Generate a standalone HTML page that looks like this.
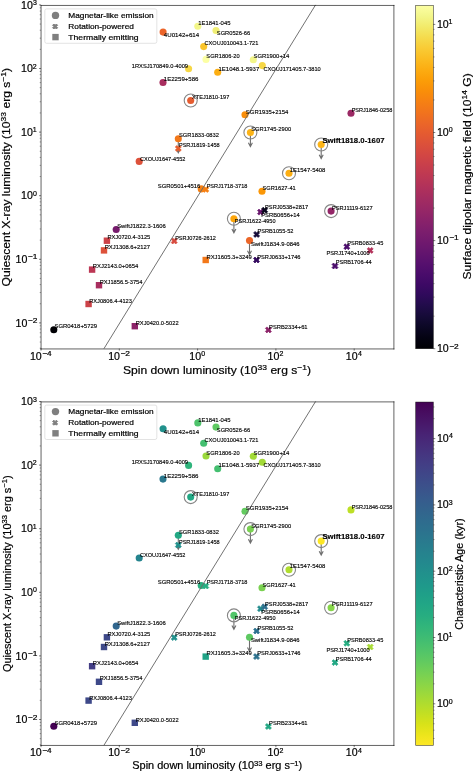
<!DOCTYPE html>
<html><head><meta charset="utf-8"><title>Magnetar luminosity plots</title><style>html,body{margin:0;padding:0;background:#fff;}body{width:473px;height:771px;overflow:hidden;}svg{display:block;font-family:"Liberation Sans",sans-serif;will-change:transform;}text{stroke:#000;stroke-width:0.2px;}.lb text{stroke-width:0.14px;}</style></head><body>
<svg width="473" height="771" viewBox="0 0 473 771" font-family="Liberation Sans, sans-serif">
<rect width="473" height="771" fill="#fff"/>
<g transform="translate(0,0.00)">
<path d="M178.30 138.70 L178.30 152.70 M176.30 148.90 L178.30 152.70 L180.30 148.90" stroke="#6e6e6e" stroke-width="1.1" fill="none"/>
<circle cx="190.70" cy="100.50" r="6.5" fill="none" stroke="#858585" stroke-width="1.1"/>
<path d="M250.40 132.50 L250.40 146.50 M248.40 142.70 L250.40 146.50 L252.40 142.70" stroke="#6e6e6e" stroke-width="1.1" fill="none"/>
<circle cx="250.40" cy="132.50" r="6.5" fill="none" stroke="#858585" stroke-width="1.1"/>
<path d="M321.20 144.50 L321.20 158.50 M319.20 154.70 L321.20 158.50 L323.20 154.70" stroke="#6e6e6e" stroke-width="1.1" fill="none"/>
<circle cx="321.20" cy="144.50" r="6.5" fill="none" stroke="#858585" stroke-width="1.1"/>
<circle cx="289.00" cy="173.20" r="6.5" fill="none" stroke="#858585" stroke-width="1.1"/>
<circle cx="331.10" cy="211.10" r="6.5" fill="none" stroke="#858585" stroke-width="1.1"/>
<path d="M233.90 218.80 L233.90 232.80 M231.90 229.00 L233.90 232.80 L235.90 229.00" stroke="#6e6e6e" stroke-width="1.1" fill="none"/>
<circle cx="233.90" cy="218.80" r="6.5" fill="none" stroke="#858585" stroke-width="1.1"/>
<path d="M249.50 240.60 L249.50 254.60 M247.50 250.80 L249.50 254.60 L251.50 250.80" stroke="#6e6e6e" stroke-width="1.1" fill="none"/>
<circle cx="53.80" cy="329.70" r="3.55" fill="#000004"/>
<rect x="131.60" y="323.00" width="6.40" height="6.40" fill="#8c2369"/>
<rect x="85.40" y="300.80" width="6.40" height="6.40" fill="#cc4248"/>
<rect x="95.80" y="282.00" width="6.40" height="6.40" fill="#a82e5f"/>
<rect x="88.90" y="266.40" width="6.40" height="6.40" fill="#bc3754"/>
<rect x="100.80" y="247.20" width="6.40" height="6.40" fill="#dd513a"/>
<rect x="103.70" y="237.50" width="6.40" height="6.40" fill="#cc4248"/>
<circle cx="116.20" cy="229.50" r="3.55" fill="#771c6d"/>
<path d="M172.70 238.00 L174.20 239.50 L175.70 238.00 L177.20 239.50 L175.70 241.00 L177.20 242.50 L175.70 244.00 L174.20 242.50 L172.70 244.00 L171.20 242.50 L172.70 241.00 L171.20 239.50Z" fill="#d74b3f" stroke="#d74b3f" stroke-width="0.7" stroke-linejoin="round"/>
<circle cx="139.20" cy="161.40" r="3.55" fill="#dd513a"/>
<circle cx="201.20" cy="188.90" r="3.55" fill="#f68013"/>
<path d="M204.30 186.40 L205.80 187.90 L207.30 186.40 L208.80 187.90 L207.30 189.40 L208.80 190.90 L207.30 192.40 L205.80 190.90 L204.30 192.40 L202.80 190.90 L204.30 189.40 L202.80 187.90Z" fill="#f68013" stroke="#f68013" stroke-width="0.7" stroke-linejoin="round"/>
<circle cx="178.30" cy="138.70" r="3.55" fill="#f37819"/>
<path d="M176.80 145.50 L178.30 147.00 L179.80 145.50 L181.30 147.00 L179.80 148.50 L181.30 150.00 L179.80 151.50 L178.30 150.00 L176.80 151.50 L175.30 150.00 L176.80 148.50 L175.30 147.00Z" fill="#e75e2e" stroke="#e75e2e" stroke-width="0.7" stroke-linejoin="round"/>
<circle cx="190.70" cy="100.50" r="3.55" fill="#e55c30"/>
<circle cx="163.00" cy="82.50" r="3.55" fill="#a82e5f"/>
<circle cx="188.60" cy="68.80" r="3.55" fill="#f6d746"/>
<circle cx="163.10" cy="32.10" r="3.55" fill="#eb6429"/>
<circle cx="197.80" cy="26.30" r="3.55" fill="#f3f68a"/>
<circle cx="216.00" cy="30.50" r="3.55" fill="#f1ef75"/>
<circle cx="203.70" cy="46.60" r="3.55" fill="#fac42a"/>
<circle cx="206.00" cy="59.40" r="3.55" fill="#fcffa4"/>
<circle cx="217.70" cy="72.20" r="3.55" fill="#fcae12"/>
<circle cx="253.30" cy="59.70" r="3.55" fill="#f3f68a"/>
<circle cx="262.30" cy="65.60" r="3.55" fill="#f6d746"/>
<circle cx="351.00" cy="113.30" r="3.55" fill="#9b2964"/>
<circle cx="245.00" cy="114.70" r="3.55" fill="#f98e09"/>
<circle cx="250.40" cy="132.50" r="3.55" fill="#fcb418"/>
<circle cx="321.20" cy="144.50" r="3.55" fill="#fcb418"/>
<circle cx="289.00" cy="173.20" r="3.55" fill="#fcae12"/>
<circle cx="262.00" cy="191.20" r="3.55" fill="#fb9706"/>
<path d="M259.00 209.10 L260.50 210.60 L262.00 209.10 L263.50 210.60 L262.00 212.10 L263.50 213.60 L262.00 215.10 L260.50 213.60 L259.00 215.10 L257.50 213.60 L259.00 212.10 L257.50 210.60Z" fill="#6a176e" stroke="#6a176e" stroke-width="0.7" stroke-linejoin="round"/>
<path d="M263.20 207.20 L264.70 208.70 L266.20 207.20 L267.70 208.70 L266.20 210.20 L267.70 211.70 L266.20 213.20 L264.70 211.70 L263.20 213.20 L261.70 211.70 L263.20 210.20 L261.70 208.70Z" fill="#07051b" stroke="#07051b" stroke-width="0.7" stroke-linejoin="round"/>
<circle cx="331.10" cy="211.10" r="3.55" fill="#932667"/>
<circle cx="233.90" cy="218.80" r="3.55" fill="#fca50a"/>
<path d="M255.10 231.40 L256.60 232.90 L258.10 231.40 L259.60 232.90 L258.10 234.40 L259.60 235.90 L258.10 237.40 L256.60 235.90 L255.10 237.40 L253.60 235.90 L255.10 234.40 L253.60 232.90Z" fill="#160b39" stroke="#160b39" stroke-width="0.7" stroke-linejoin="round"/>
<circle cx="249.50" cy="240.60" r="3.55" fill="#eb6628"/>
<rect x="202.50" y="256.80" width="6.40" height="6.40" fill="#f37819"/>
<path d="M255.00 257.00 L256.50 258.50 L258.00 257.00 L259.50 258.50 L258.00 260.00 L259.50 261.50 L258.00 263.00 L256.50 261.50 L255.00 263.00 L253.50 261.50 L255.00 260.00 L253.50 258.50Z" fill="#340a5f" stroke="#340a5f" stroke-width="0.7" stroke-linejoin="round"/>
<path d="M345.30 243.70 L346.80 245.20 L348.30 243.70 L349.80 245.20 L348.30 246.70 L349.80 248.20 L348.30 249.70 L346.80 248.20 L345.30 249.70 L343.80 248.20 L345.30 246.70 L343.80 245.20Z" fill="#4a0c6b" stroke="#4a0c6b" stroke-width="0.7" stroke-linejoin="round"/>
<path d="M368.70 247.40 L370.20 248.90 L371.70 247.40 L373.20 248.90 L371.70 250.40 L373.20 251.90 L371.70 253.40 L370.20 251.90 L368.70 253.40 L367.20 251.90 L368.70 250.40 L367.20 248.90Z" fill="#b3325a" stroke="#b3325a" stroke-width="0.7" stroke-linejoin="round"/>
<path d="M333.50 263.00 L335.00 264.50 L336.50 263.00 L338.00 264.50 L336.50 266.00 L338.00 267.50 L336.50 269.00 L335.00 267.50 L333.50 269.00 L332.00 267.50 L333.50 266.00 L332.00 264.50Z" fill="#4a0c6b" stroke="#4a0c6b" stroke-width="0.7" stroke-linejoin="round"/>
<path d="M266.90 326.90 L268.40 328.40 L269.90 326.90 L271.40 328.40 L269.90 329.90 L271.40 331.40 L269.90 332.90 L268.40 331.40 L266.90 332.90 L265.40 331.40 L266.90 329.90 L265.40 328.40Z" fill="#8c2369" stroke="#8c2369" stroke-width="0.7" stroke-linejoin="round"/>
<line x1="103.98" y1="348.60" x2="315.55" y2="4.90" stroke="#6a6a6a" stroke-width="0.95"/>
<g class="lb" font-size="6.20" fill="#000">
<text x="54.45" y="328.33" textLength="42.57" lengthAdjust="spacingAndGlyphs">SGR0418+5729</text>
<text x="135.75" y="325.03" textLength="42.82" lengthAdjust="spacingAndGlyphs">RXJ0420.0-5022</text>
<text x="89.15" y="303.23" textLength="42.82" lengthAdjust="spacingAndGlyphs">RXJ0806.4-4123</text>
<text x="99.65" y="283.73" textLength="42.82" lengthAdjust="spacingAndGlyphs">RXJ1856.5-3754</text>
<text x="92.85" y="268.33" textLength="45.35" lengthAdjust="spacingAndGlyphs">RXJ2143.0+0654</text>
<text x="104.65" y="249.33" textLength="45.35" lengthAdjust="spacingAndGlyphs">RXJ1308.6+2127</text>
<text x="107.45" y="239.43" textLength="42.82" lengthAdjust="spacingAndGlyphs">RXJ0720.4-3125</text>
<text x="117.15" y="228.03" textLength="48.53" lengthAdjust="spacingAndGlyphs">SwiftJ1822.3-1606</text>
<text x="175.15" y="239.53" textLength="40.69" lengthAdjust="spacingAndGlyphs">PSRJ0726-2612</text>
<text x="139.95" y="160.53" textLength="45.50" lengthAdjust="spacingAndGlyphs">CXOUJ1647-4552</text>
<text x="157.75" y="187.83" textLength="42.57" lengthAdjust="spacingAndGlyphs">SGR0501+4516</text>
<text x="206.65" y="187.83" textLength="40.69" lengthAdjust="spacingAndGlyphs">PSRJ1718-3718</text>
<text x="178.95" y="137.23" textLength="40.04" lengthAdjust="spacingAndGlyphs">SGR1833-0832</text>
<text x="178.95" y="147.03" textLength="40.69" lengthAdjust="spacingAndGlyphs">PSRJ1819-1458</text>
<text x="192.05" y="99.03" textLength="37.20" lengthAdjust="spacingAndGlyphs">XTEJ1810-197</text>
<text x="163.75" y="81.03" textLength="34.77" lengthAdjust="spacingAndGlyphs">1E2259+586</text>
<text x="131.75" y="67.53" textLength="56.30" lengthAdjust="spacingAndGlyphs">1RXSJ170849.0-4009</text>
<text x="163.85" y="37.03" textLength="35.30" lengthAdjust="spacingAndGlyphs">4U0142+614</text>
<text x="198.25" y="25.43" textLength="32.24" lengthAdjust="spacingAndGlyphs">1E1841-045</text>
<text x="216.85" y="35.43" textLength="33.30" lengthAdjust="spacingAndGlyphs">SGR0526-66</text>
<text x="204.45" y="45.33" textLength="53.92" lengthAdjust="spacingAndGlyphs">CXOUJ010043.1-721</text>
<text x="206.35" y="58.23" textLength="33.30" lengthAdjust="spacingAndGlyphs">SGR1806-20</text>
<text x="218.55" y="70.53" textLength="40.67" lengthAdjust="spacingAndGlyphs">1E1048.1-5937</text>
<text x="253.55" y="58.23" textLength="35.83" lengthAdjust="spacingAndGlyphs">SGR1900+14</text>
<text x="263.45" y="70.53" textLength="57.30" lengthAdjust="spacingAndGlyphs">CXOUJ171405.7-3810</text>
<text x="351.65" y="112.23" textLength="40.69" lengthAdjust="spacingAndGlyphs">PSRJ1846-0258</text>
<text x="245.85" y="113.63" textLength="42.57" lengthAdjust="spacingAndGlyphs">SGR1935+2154</text>
<text x="251.15" y="131.13" textLength="40.04" lengthAdjust="spacingAndGlyphs">SGR1745-2900</text>
<text x="322.40" y="142.90" font-size="7.20" font-weight="bold" textLength="62.13" lengthAdjust="spacingAndGlyphs">Swift1818.0-1607</text>
<text x="289.75" y="171.83" textLength="35.61" lengthAdjust="spacingAndGlyphs">1E1547-5408</text>
<text x="262.45" y="190.23" textLength="33.30" lengthAdjust="spacingAndGlyphs">SGR1627-41</text>
<text x="261.25" y="217.13" textLength="38.55" lengthAdjust="spacingAndGlyphs">PSRB0656+14</text>
<text x="265.05" y="208.93" textLength="43.22" lengthAdjust="spacingAndGlyphs">PSRJ0538+2817</text>
<text x="331.95" y="209.83" textLength="40.69" lengthAdjust="spacingAndGlyphs">PSRJ1119-6127</text>
<text x="234.85" y="223.13" textLength="40.69" lengthAdjust="spacingAndGlyphs">PSRJ1622-4950</text>
<text x="257.45" y="233.13" textLength="36.02" lengthAdjust="spacingAndGlyphs">PSRB1055-52</text>
<text x="250.95" y="245.63" textLength="48.53" lengthAdjust="spacingAndGlyphs">SwiftJ1834.9-0846</text>
<text x="206.45" y="258.53" textLength="45.35" lengthAdjust="spacingAndGlyphs">RXJ1605.3+3249</text>
<text x="257.25" y="258.53" textLength="43.22" lengthAdjust="spacingAndGlyphs">PSRJ0633+1746</text>
<text x="347.25" y="245.43" textLength="36.02" lengthAdjust="spacingAndGlyphs">PSRB0833-45</text>
<text x="326.45" y="255.23" textLength="43.22" lengthAdjust="spacingAndGlyphs">PSRJ1740+1000</text>
<text x="335.65" y="264.23" textLength="36.02" lengthAdjust="spacingAndGlyphs">PSRB1706-44</text>
<text x="269.05" y="328.73" textLength="38.55" lengthAdjust="spacingAndGlyphs">PSRB2334+61</text>
</g>
<path d="M41.05 5.45 H393.90 M41.05 348.95 H393.90 M41.05 5.45 V348.95 M393.90 5.45 V348.95" stroke="#000" stroke-width="0.62" fill="none" stroke-linecap="square"/>
<line x1="41.00" y1="348.60" x2="41.00" y2="350.60" stroke="#000" stroke-width="0.5"/>
<text x="29.89" y="359.90" font-size="10.60">10</text><text x="42.20" y="356.30" font-size="7.00" textLength="9.34" lengthAdjust="spacingAndGlyphs">−4</text>
<line x1="119.30" y1="348.60" x2="119.30" y2="350.60" stroke="#000" stroke-width="0.5"/>
<text x="108.19" y="359.90" font-size="10.60">10</text><text x="120.49" y="356.30" font-size="7.00" textLength="9.53" lengthAdjust="spacingAndGlyphs">−2</text>
<line x1="197.60" y1="348.60" x2="197.60" y2="350.60" stroke="#000" stroke-width="0.5"/>
<text x="189.24" y="359.90" font-size="10.60">10</text><text x="201.18" y="356.30" font-size="7.00">0</text>
<line x1="275.90" y1="348.60" x2="275.90" y2="350.60" stroke="#000" stroke-width="0.5"/>
<text x="267.54" y="359.90" font-size="10.60">10</text><text x="279.40" y="356.30" font-size="7.00">2</text>
<line x1="354.20" y1="348.60" x2="354.20" y2="350.60" stroke="#000" stroke-width="0.5"/>
<text x="345.84" y="359.90" font-size="10.60">10</text><text x="357.90" y="356.30" font-size="7.00">4</text>
<line x1="39.00" y1="322.90" x2="41.00" y2="322.90" stroke="#000" stroke-width="0.5"/>
<text x="15.49" y="326.60" font-size="10.60">10</text><text x="27.79" y="323.00" font-size="7.00" textLength="9.53" lengthAdjust="spacingAndGlyphs">−2</text>
<line x1="39.00" y1="259.30" x2="41.00" y2="259.30" stroke="#000" stroke-width="0.5"/>
<text x="15.49" y="263.00" font-size="10.60">10</text><text x="27.79" y="259.40" font-size="7.00" textLength="9.51" lengthAdjust="spacingAndGlyphs">−1</text>
<line x1="39.00" y1="195.70" x2="41.00" y2="195.70" stroke="#000" stroke-width="0.5"/>
<text x="20.99" y="199.40" font-size="10.60">10</text><text x="32.93" y="195.80" font-size="7.00">0</text>
<line x1="39.00" y1="132.10" x2="41.00" y2="132.10" stroke="#000" stroke-width="0.5"/>
<text x="20.99" y="135.80" font-size="10.60">10</text><text x="32.67" y="132.20" font-size="7.00">1</text>
<line x1="39.00" y1="68.50" x2="41.00" y2="68.50" stroke="#000" stroke-width="0.5"/>
<text x="20.99" y="72.20" font-size="10.60">10</text><text x="32.85" y="68.60" font-size="7.00">2</text>
<line x1="39.00" y1="4.90" x2="41.00" y2="4.90" stroke="#000" stroke-width="0.5"/>
<text x="20.99" y="8.60" font-size="10.60">10</text><text x="32.93" y="5.00" font-size="7.00">3</text>
<line x1="39.70" y1="348.21" x2="41.00" y2="348.21" stroke="#000" stroke-width="0.35"/>
<line x1="39.70" y1="342.05" x2="41.00" y2="342.05" stroke="#000" stroke-width="0.35"/>
<line x1="39.70" y1="337.01" x2="41.00" y2="337.01" stroke="#000" stroke-width="0.35"/>
<line x1="39.70" y1="332.75" x2="41.00" y2="332.75" stroke="#000" stroke-width="0.35"/>
<line x1="39.70" y1="329.06" x2="41.00" y2="329.06" stroke="#000" stroke-width="0.35"/>
<line x1="39.70" y1="325.81" x2="41.00" y2="325.81" stroke="#000" stroke-width="0.35"/>
<line x1="39.70" y1="303.75" x2="41.00" y2="303.75" stroke="#000" stroke-width="0.35"/>
<line x1="39.70" y1="292.56" x2="41.00" y2="292.56" stroke="#000" stroke-width="0.35"/>
<line x1="39.70" y1="284.61" x2="41.00" y2="284.61" stroke="#000" stroke-width="0.35"/>
<line x1="39.70" y1="278.45" x2="41.00" y2="278.45" stroke="#000" stroke-width="0.35"/>
<line x1="39.70" y1="273.41" x2="41.00" y2="273.41" stroke="#000" stroke-width="0.35"/>
<line x1="39.70" y1="269.15" x2="41.00" y2="269.15" stroke="#000" stroke-width="0.35"/>
<line x1="39.70" y1="265.46" x2="41.00" y2="265.46" stroke="#000" stroke-width="0.35"/>
<line x1="39.70" y1="262.21" x2="41.00" y2="262.21" stroke="#000" stroke-width="0.35"/>
<line x1="39.70" y1="240.15" x2="41.00" y2="240.15" stroke="#000" stroke-width="0.35"/>
<line x1="39.70" y1="228.96" x2="41.00" y2="228.96" stroke="#000" stroke-width="0.35"/>
<line x1="39.70" y1="221.01" x2="41.00" y2="221.01" stroke="#000" stroke-width="0.35"/>
<line x1="39.70" y1="214.85" x2="41.00" y2="214.85" stroke="#000" stroke-width="0.35"/>
<line x1="39.70" y1="209.81" x2="41.00" y2="209.81" stroke="#000" stroke-width="0.35"/>
<line x1="39.70" y1="205.55" x2="41.00" y2="205.55" stroke="#000" stroke-width="0.35"/>
<line x1="39.70" y1="201.86" x2="41.00" y2="201.86" stroke="#000" stroke-width="0.35"/>
<line x1="39.70" y1="198.61" x2="41.00" y2="198.61" stroke="#000" stroke-width="0.35"/>
<line x1="39.70" y1="176.55" x2="41.00" y2="176.55" stroke="#000" stroke-width="0.35"/>
<line x1="39.70" y1="165.36" x2="41.00" y2="165.36" stroke="#000" stroke-width="0.35"/>
<line x1="39.70" y1="157.41" x2="41.00" y2="157.41" stroke="#000" stroke-width="0.35"/>
<line x1="39.70" y1="151.25" x2="41.00" y2="151.25" stroke="#000" stroke-width="0.35"/>
<line x1="39.70" y1="146.21" x2="41.00" y2="146.21" stroke="#000" stroke-width="0.35"/>
<line x1="39.70" y1="141.95" x2="41.00" y2="141.95" stroke="#000" stroke-width="0.35"/>
<line x1="39.70" y1="138.26" x2="41.00" y2="138.26" stroke="#000" stroke-width="0.35"/>
<line x1="39.70" y1="135.01" x2="41.00" y2="135.01" stroke="#000" stroke-width="0.35"/>
<line x1="39.70" y1="112.95" x2="41.00" y2="112.95" stroke="#000" stroke-width="0.35"/>
<line x1="39.70" y1="101.76" x2="41.00" y2="101.76" stroke="#000" stroke-width="0.35"/>
<line x1="39.70" y1="93.81" x2="41.00" y2="93.81" stroke="#000" stroke-width="0.35"/>
<line x1="39.70" y1="87.65" x2="41.00" y2="87.65" stroke="#000" stroke-width="0.35"/>
<line x1="39.70" y1="82.61" x2="41.00" y2="82.61" stroke="#000" stroke-width="0.35"/>
<line x1="39.70" y1="78.35" x2="41.00" y2="78.35" stroke="#000" stroke-width="0.35"/>
<line x1="39.70" y1="74.66" x2="41.00" y2="74.66" stroke="#000" stroke-width="0.35"/>
<line x1="39.70" y1="71.41" x2="41.00" y2="71.41" stroke="#000" stroke-width="0.35"/>
<line x1="39.70" y1="49.35" x2="41.00" y2="49.35" stroke="#000" stroke-width="0.35"/>
<line x1="39.70" y1="38.16" x2="41.00" y2="38.16" stroke="#000" stroke-width="0.35"/>
<line x1="39.70" y1="30.21" x2="41.00" y2="30.21" stroke="#000" stroke-width="0.35"/>
<line x1="39.70" y1="24.05" x2="41.00" y2="24.05" stroke="#000" stroke-width="0.35"/>
<line x1="39.70" y1="19.01" x2="41.00" y2="19.01" stroke="#000" stroke-width="0.35"/>
<line x1="39.70" y1="14.75" x2="41.00" y2="14.75" stroke="#000" stroke-width="0.35"/>
<line x1="39.70" y1="11.06" x2="41.00" y2="11.06" stroke="#000" stroke-width="0.35"/>
<line x1="39.70" y1="7.81" x2="41.00" y2="7.81" stroke="#000" stroke-width="0.35"/>
<text x="123.03" y="373.80" font-size="11.20" textLength="187.98" lengthAdjust="spacingAndGlyphs">Spin down luminosity (10<tspan font-size="7.84" dy="-4.03">33</tspan><tspan dy="4.03"> erg s</tspan><tspan font-size="7.84" dy="-4.03">−1</tspan><tspan dy="4.03">)</tspan></text>
<text transform="translate(9.80,286.47) rotate(-90)" x="0" y="0" font-size="11.20" textLength="218.58" lengthAdjust="spacingAndGlyphs">Quiescent X-ray luminosity (10<tspan font-size="7.84" dy="-4.03">33</tspan><tspan dy="4.03"> erg s</tspan><tspan font-size="7.84" dy="-4.03">−1</tspan><tspan dy="4.03">)</tspan></text>
<g transform="translate(0,0.00)">
<rect x="44.8" y="8.9" width="112.0" height="34.4" rx="1.8" fill="#fff" fill-opacity="0.8" stroke="#dcdcdc" stroke-width="0.8"/>
<circle cx="55.5" cy="15.4" r="3.7" fill="#7f7f7f"/>
<path d="M53.85 24.00 L55.10 25.25 L56.35 24.00 L57.60 25.25 L56.35 26.50 L57.60 27.75 L56.35 29.00 L55.10 27.75 L53.85 29.00 L52.60 27.75 L53.85 26.50 L52.60 25.25Z" fill="#7f7f7f" stroke="#7f7f7f" stroke-width="1.0" stroke-linejoin="round"/>
<rect x="52.3" y="33.9" width="6.4" height="6.4" fill="#7f7f7f"/>
<text x="68.30" y="18.10" font-size="7.85" textLength="85.37" lengthAdjust="spacingAndGlyphs">Magnetar-like emission</text>
<text x="68.30" y="28.80" font-size="7.85" textLength="65.58" lengthAdjust="spacingAndGlyphs">Rotation-powered</text>
<text x="68.30" y="39.50" font-size="7.85" textLength="70.33" lengthAdjust="spacingAndGlyphs">Thermally emitting</text>
</g>
<defs><linearGradient id="cb0" x1="0" y1="0" x2="0" y2="1"><stop offset="0.0000" stop-color="#fcffa4"/><stop offset="0.0312" stop-color="#f3f68a"/><stop offset="0.0625" stop-color="#f2ea69"/><stop offset="0.0938" stop-color="#f5db4c"/><stop offset="0.1250" stop-color="#f9cb35"/><stop offset="0.1562" stop-color="#fbbc21"/><stop offset="0.1875" stop-color="#fcac11"/><stop offset="0.2188" stop-color="#fb9d07"/><stop offset="0.2500" stop-color="#f98e09"/><stop offset="0.2812" stop-color="#f68013"/><stop offset="0.3125" stop-color="#f1731d"/><stop offset="0.3438" stop-color="#eb6628"/><stop offset="0.3750" stop-color="#e45a31"/><stop offset="0.4062" stop-color="#db503b"/><stop offset="0.4375" stop-color="#d24644"/><stop offset="0.4688" stop-color="#c73e4c"/><stop offset="0.5000" stop-color="#bc3754"/><stop offset="0.5312" stop-color="#b0315b"/><stop offset="0.5625" stop-color="#a32c61"/><stop offset="0.5938" stop-color="#972766"/><stop offset="0.6250" stop-color="#8a226a"/><stop offset="0.6562" stop-color="#7d1e6d"/><stop offset="0.6875" stop-color="#71196e"/><stop offset="0.7188" stop-color="#64156e"/><stop offset="0.7500" stop-color="#57106e"/><stop offset="0.7812" stop-color="#4a0c6b"/><stop offset="0.8125" stop-color="#3d0965"/><stop offset="0.8438" stop-color="#2f0a5b"/><stop offset="0.8750" stop-color="#210c4a"/><stop offset="0.9062" stop-color="#150b37"/><stop offset="0.9375" stop-color="#0b0724"/><stop offset="0.9688" stop-color="#040312"/><stop offset="1.0000" stop-color="#000004"/></linearGradient></defs>
<rect x="415.70" y="5.45" width="17.60" height="343.25" fill="url(#cb0)" stroke="#000" stroke-opacity="0.75" stroke-width="0.6"/>
<line x1="433.30" y1="348.70" x2="435.30" y2="348.70" stroke="#000" stroke-width="0.5"/>
<text x="436.89" y="352.10" font-size="10.60">10</text><text x="449.19" y="348.50" font-size="7.00" textLength="9.53" lengthAdjust="spacingAndGlyphs">−2</text>
<line x1="433.30" y1="240.60" x2="435.30" y2="240.60" stroke="#000" stroke-width="0.5"/>
<text x="436.89" y="244.00" font-size="10.60">10</text><text x="449.19" y="240.40" font-size="7.00" textLength="9.51" lengthAdjust="spacingAndGlyphs">−1</text>
<line x1="433.30" y1="132.50" x2="435.30" y2="132.50" stroke="#000" stroke-width="0.5"/>
<text x="436.89" y="135.90" font-size="10.60">10</text><text x="448.83" y="132.30" font-size="7.00">0</text>
<line x1="433.30" y1="24.40" x2="435.30" y2="24.40" stroke="#000" stroke-width="0.5"/>
<text x="436.89" y="27.80" font-size="10.60">10</text><text x="448.57" y="24.20" font-size="7.00">1</text>
<line x1="433.30" y1="316.16" x2="434.60" y2="316.16" stroke="#000" stroke-width="0.35"/>
<line x1="433.30" y1="297.12" x2="434.60" y2="297.12" stroke="#000" stroke-width="0.35"/>
<line x1="433.30" y1="283.62" x2="434.60" y2="283.62" stroke="#000" stroke-width="0.35"/>
<line x1="433.30" y1="273.14" x2="434.60" y2="273.14" stroke="#000" stroke-width="0.35"/>
<line x1="433.30" y1="264.58" x2="434.60" y2="264.58" stroke="#000" stroke-width="0.35"/>
<line x1="433.30" y1="257.34" x2="434.60" y2="257.34" stroke="#000" stroke-width="0.35"/>
<line x1="433.30" y1="251.08" x2="434.60" y2="251.08" stroke="#000" stroke-width="0.35"/>
<line x1="433.30" y1="245.55" x2="434.60" y2="245.55" stroke="#000" stroke-width="0.35"/>
<line x1="433.30" y1="208.06" x2="434.60" y2="208.06" stroke="#000" stroke-width="0.35"/>
<line x1="433.30" y1="189.02" x2="434.60" y2="189.02" stroke="#000" stroke-width="0.35"/>
<line x1="433.30" y1="175.52" x2="434.60" y2="175.52" stroke="#000" stroke-width="0.35"/>
<line x1="433.30" y1="165.04" x2="434.60" y2="165.04" stroke="#000" stroke-width="0.35"/>
<line x1="433.30" y1="156.48" x2="434.60" y2="156.48" stroke="#000" stroke-width="0.35"/>
<line x1="433.30" y1="149.24" x2="434.60" y2="149.24" stroke="#000" stroke-width="0.35"/>
<line x1="433.30" y1="142.98" x2="434.60" y2="142.98" stroke="#000" stroke-width="0.35"/>
<line x1="433.30" y1="137.45" x2="434.60" y2="137.45" stroke="#000" stroke-width="0.35"/>
<line x1="433.30" y1="99.96" x2="434.60" y2="99.96" stroke="#000" stroke-width="0.35"/>
<line x1="433.30" y1="80.92" x2="434.60" y2="80.92" stroke="#000" stroke-width="0.35"/>
<line x1="433.30" y1="67.42" x2="434.60" y2="67.42" stroke="#000" stroke-width="0.35"/>
<line x1="433.30" y1="56.94" x2="434.60" y2="56.94" stroke="#000" stroke-width="0.35"/>
<line x1="433.30" y1="48.38" x2="434.60" y2="48.38" stroke="#000" stroke-width="0.35"/>
<line x1="433.30" y1="41.14" x2="434.60" y2="41.14" stroke="#000" stroke-width="0.35"/>
<line x1="433.30" y1="34.88" x2="434.60" y2="34.88" stroke="#000" stroke-width="0.35"/>
<line x1="433.30" y1="29.35" x2="434.60" y2="29.35" stroke="#000" stroke-width="0.35"/>
<text transform="translate(470.70,279.47) rotate(-90)" x="0" y="0" font-size="11.20" textLength="206.18" lengthAdjust="spacingAndGlyphs">Surface dipolar magnetic field (10<tspan font-size="7.84" dy="-4.03">14</tspan><tspan dy="4.03"> G)</tspan></text>
</g>
<g transform="translate(0,396.60)">
<path d="M178.30 138.70 L178.30 152.70 M176.30 148.90 L178.30 152.70 L180.30 148.90" stroke="#6e6e6e" stroke-width="1.1" fill="none"/>
<circle cx="190.70" cy="100.50" r="6.5" fill="none" stroke="#858585" stroke-width="1.1"/>
<path d="M250.40 132.50 L250.40 146.50 M248.40 142.70 L250.40 146.50 L252.40 142.70" stroke="#6e6e6e" stroke-width="1.1" fill="none"/>
<circle cx="250.40" cy="132.50" r="6.5" fill="none" stroke="#858585" stroke-width="1.1"/>
<path d="M321.20 144.50 L321.20 158.50 M319.20 154.70 L321.20 158.50 L323.20 154.70" stroke="#6e6e6e" stroke-width="1.1" fill="none"/>
<circle cx="321.20" cy="144.50" r="6.5" fill="none" stroke="#858585" stroke-width="1.1"/>
<circle cx="289.00" cy="173.20" r="6.5" fill="none" stroke="#858585" stroke-width="1.1"/>
<circle cx="331.10" cy="211.10" r="6.5" fill="none" stroke="#858585" stroke-width="1.1"/>
<path d="M233.90 218.80 L233.90 232.80 M231.90 229.00 L233.90 232.80 L235.90 229.00" stroke="#6e6e6e" stroke-width="1.1" fill="none"/>
<circle cx="233.90" cy="218.80" r="6.5" fill="none" stroke="#858585" stroke-width="1.1"/>
<path d="M249.50 240.60 L249.50 254.60 M247.50 250.80 L249.50 254.60 L251.50 250.80" stroke="#6e6e6e" stroke-width="1.1" fill="none"/>
<circle cx="53.80" cy="329.70" r="3.55" fill="#440154"/>
<rect x="131.60" y="323.00" width="6.40" height="6.40" fill="#3e4989"/>
<rect x="85.40" y="300.80" width="6.40" height="6.40" fill="#3e4989"/>
<rect x="95.80" y="282.00" width="6.40" height="6.40" fill="#3e4989"/>
<rect x="88.90" y="266.40" width="6.40" height="6.40" fill="#433e85"/>
<rect x="100.80" y="247.20" width="6.40" height="6.40" fill="#3e4989"/>
<rect x="103.70" y="237.50" width="6.40" height="6.40" fill="#3e4989"/>
<circle cx="116.20" cy="229.50" r="3.55" fill="#31678e"/>
<path d="M172.70 238.00 L174.20 239.50 L175.70 238.00 L177.20 239.50 L175.70 241.00 L177.20 242.50 L175.70 244.00 L174.20 242.50 L172.70 244.00 L171.20 242.50 L172.70 241.00 L171.20 239.50Z" fill="#21918c" stroke="#21918c" stroke-width="0.7" stroke-linejoin="round"/>
<circle cx="139.20" cy="161.40" r="3.55" fill="#25848e"/>
<circle cx="201.20" cy="188.90" r="3.55" fill="#29af7f"/>
<path d="M204.30 186.40 L205.80 187.90 L207.30 186.40 L208.80 187.90 L207.30 189.40 L208.80 190.90 L207.30 192.40 L205.80 190.90 L204.30 192.40 L202.80 190.90 L204.30 189.40 L202.80 187.90Z" fill="#26ad81" stroke="#26ad81" stroke-width="0.7" stroke-linejoin="round"/>
<circle cx="178.30" cy="138.70" r="3.55" fill="#22a884"/>
<path d="M176.80 145.50 L178.30 147.00 L179.80 145.50 L181.30 147.00 L179.80 148.50 L181.30 150.00 L179.80 151.50 L178.30 150.00 L176.80 151.50 L175.30 150.00 L176.80 148.50 L175.30 147.00Z" fill="#21918c" stroke="#21918c" stroke-width="0.7" stroke-linejoin="round"/>
<circle cx="190.70" cy="100.50" r="3.55" fill="#22a884"/>
<circle cx="163.00" cy="82.50" r="3.55" fill="#2a788e"/>
<circle cx="188.60" cy="68.80" r="3.55" fill="#2fb47c"/>
<circle cx="163.10" cy="32.10" r="3.55" fill="#21918c"/>
<circle cx="197.80" cy="26.30" r="3.55" fill="#4ec36b"/>
<circle cx="216.00" cy="30.50" r="3.55" fill="#5ec962"/>
<circle cx="203.70" cy="46.60" r="3.55" fill="#44bf70"/>
<circle cx="206.00" cy="59.40" r="3.55" fill="#9bd93c"/>
<circle cx="217.70" cy="72.20" r="3.55" fill="#44bf70"/>
<circle cx="253.30" cy="59.70" r="3.55" fill="#a2da37"/>
<circle cx="262.30" cy="65.60" r="3.55" fill="#a2da37"/>
<circle cx="351.00" cy="113.30" r="3.55" fill="#bddf26"/>
<circle cx="245.00" cy="114.70" r="3.55" fill="#63cb5f"/>
<circle cx="250.40" cy="132.50" r="3.55" fill="#7ad151"/>
<circle cx="321.20" cy="144.50" r="3.55" fill="#fde725"/>
<circle cx="289.00" cy="173.20" r="3.55" fill="#b0dd2f"/>
<circle cx="262.00" cy="191.20" r="3.55" fill="#7ad151"/>
<path d="M259.00 209.10 L260.50 210.60 L262.00 209.10 L263.50 210.60 L262.00 212.10 L263.50 213.60 L262.00 215.10 L260.50 213.60 L259.00 215.10 L257.50 213.60 L259.00 212.10 L257.50 210.60Z" fill="#228b8d" stroke="#228b8d" stroke-width="0.7" stroke-linejoin="round"/>
<path d="M263.20 207.20 L264.70 208.70 L266.20 207.20 L267.70 208.70 L266.20 210.20 L267.70 211.70 L266.20 213.20 L264.70 211.70 L263.20 213.20 L261.70 211.70 L263.20 210.20 L261.70 208.70Z" fill="#2e6f8e" stroke="#2e6f8e" stroke-width="0.7" stroke-linejoin="round"/>
<circle cx="331.10" cy="211.10" r="3.55" fill="#86d549"/>
<circle cx="233.90" cy="218.80" r="3.55" fill="#52c569"/>
<path d="M255.10 231.40 L256.60 232.90 L258.10 231.40 L259.60 232.90 L258.10 234.40 L259.60 235.90 L258.10 237.40 L256.60 235.90 L255.10 237.40 L253.60 235.90 L255.10 234.40 L253.60 232.90Z" fill="#2d718e" stroke="#2d718e" stroke-width="0.7" stroke-linejoin="round"/>
<circle cx="249.50" cy="240.60" r="3.55" fill="#5ec962"/>
<rect x="202.50" y="256.80" width="6.40" height="6.40" fill="#20a386"/>
<path d="M255.00 257.00 L256.50 258.50 L258.00 257.00 L259.50 258.50 L258.00 260.00 L259.50 261.50 L258.00 263.00 L256.50 261.50 L255.00 263.00 L253.50 261.50 L255.00 260.00 L253.50 258.50Z" fill="#2d718e" stroke="#2d718e" stroke-width="0.7" stroke-linejoin="round"/>
<path d="M345.30 243.70 L346.80 245.20 L348.30 243.70 L349.80 245.20 L348.30 246.70 L349.80 248.20 L348.30 249.70 L346.80 248.20 L345.30 249.70 L343.80 248.20 L345.30 246.70 L343.80 245.20Z" fill="#26ad81" stroke="#26ad81" stroke-width="0.7" stroke-linejoin="round"/>
<path d="M368.70 247.40 L370.20 248.90 L371.70 247.40 L373.20 248.90 L371.70 250.40 L373.20 251.90 L371.70 253.40 L370.20 251.90 L368.70 253.40 L367.20 251.90 L368.70 250.40 L367.20 248.90Z" fill="#a8db34" stroke="#a8db34" stroke-width="0.7" stroke-linejoin="round"/>
<path d="M333.50 263.00 L335.00 264.50 L336.50 263.00 L338.00 264.50 L336.50 266.00 L338.00 267.50 L336.50 269.00 L335.00 267.50 L333.50 269.00 L332.00 267.50 L333.50 266.00 L332.00 264.50Z" fill="#22a884" stroke="#22a884" stroke-width="0.7" stroke-linejoin="round"/>
<path d="M266.90 326.90 L268.40 328.40 L269.90 326.90 L271.40 328.40 L269.90 329.90 L271.40 331.40 L269.90 332.90 L268.40 331.40 L266.90 332.90 L265.40 331.40 L266.90 329.90 L265.40 328.40Z" fill="#22a884" stroke="#22a884" stroke-width="0.7" stroke-linejoin="round"/>
<line x1="103.98" y1="348.60" x2="315.55" y2="4.90" stroke="#6a6a6a" stroke-width="0.95"/>
<g class="lb" font-size="6.20" fill="#000">
<text x="54.45" y="328.33" textLength="42.57" lengthAdjust="spacingAndGlyphs">SGR0418+5729</text>
<text x="135.75" y="325.03" textLength="42.82" lengthAdjust="spacingAndGlyphs">RXJ0420.0-5022</text>
<text x="89.15" y="303.23" textLength="42.82" lengthAdjust="spacingAndGlyphs">RXJ0806.4-4123</text>
<text x="99.65" y="283.73" textLength="42.82" lengthAdjust="spacingAndGlyphs">RXJ1856.5-3754</text>
<text x="92.85" y="268.33" textLength="45.35" lengthAdjust="spacingAndGlyphs">RXJ2143.0+0654</text>
<text x="104.65" y="249.33" textLength="45.35" lengthAdjust="spacingAndGlyphs">RXJ1308.6+2127</text>
<text x="107.45" y="239.43" textLength="42.82" lengthAdjust="spacingAndGlyphs">RXJ0720.4-3125</text>
<text x="117.15" y="228.03" textLength="48.53" lengthAdjust="spacingAndGlyphs">SwiftJ1822.3-1606</text>
<text x="175.15" y="239.53" textLength="40.69" lengthAdjust="spacingAndGlyphs">PSRJ0726-2612</text>
<text x="139.95" y="160.53" textLength="45.50" lengthAdjust="spacingAndGlyphs">CXOUJ1647-4552</text>
<text x="157.75" y="187.83" textLength="42.57" lengthAdjust="spacingAndGlyphs">SGR0501+4516</text>
<text x="206.65" y="187.83" textLength="40.69" lengthAdjust="spacingAndGlyphs">PSRJ1718-3718</text>
<text x="178.95" y="137.23" textLength="40.04" lengthAdjust="spacingAndGlyphs">SGR1833-0832</text>
<text x="178.95" y="147.03" textLength="40.69" lengthAdjust="spacingAndGlyphs">PSRJ1819-1458</text>
<text x="192.05" y="99.03" textLength="37.20" lengthAdjust="spacingAndGlyphs">XTEJ1810-197</text>
<text x="163.75" y="81.03" textLength="34.77" lengthAdjust="spacingAndGlyphs">1E2259+586</text>
<text x="131.75" y="67.53" textLength="56.30" lengthAdjust="spacingAndGlyphs">1RXSJ170849.0-4009</text>
<text x="163.85" y="37.03" textLength="35.30" lengthAdjust="spacingAndGlyphs">4U0142+614</text>
<text x="198.25" y="25.43" textLength="32.24" lengthAdjust="spacingAndGlyphs">1E1841-045</text>
<text x="216.85" y="35.43" textLength="33.30" lengthAdjust="spacingAndGlyphs">SGR0526-66</text>
<text x="204.45" y="45.33" textLength="53.92" lengthAdjust="spacingAndGlyphs">CXOUJ010043.1-721</text>
<text x="206.35" y="58.23" textLength="33.30" lengthAdjust="spacingAndGlyphs">SGR1806-20</text>
<text x="218.55" y="70.53" textLength="40.67" lengthAdjust="spacingAndGlyphs">1E1048.1-5937</text>
<text x="253.55" y="58.23" textLength="35.83" lengthAdjust="spacingAndGlyphs">SGR1900+14</text>
<text x="263.45" y="70.53" textLength="57.30" lengthAdjust="spacingAndGlyphs">CXOUJ171405.7-3810</text>
<text x="351.65" y="112.23" textLength="40.69" lengthAdjust="spacingAndGlyphs">PSRJ1846-0258</text>
<text x="245.85" y="113.63" textLength="42.57" lengthAdjust="spacingAndGlyphs">SGR1935+2154</text>
<text x="251.15" y="131.13" textLength="40.04" lengthAdjust="spacingAndGlyphs">SGR1745-2900</text>
<text x="322.40" y="142.90" font-size="7.20" font-weight="bold" textLength="62.13" lengthAdjust="spacingAndGlyphs">Swift1818.0-1607</text>
<text x="289.75" y="171.83" textLength="35.61" lengthAdjust="spacingAndGlyphs">1E1547-5408</text>
<text x="262.45" y="190.23" textLength="33.30" lengthAdjust="spacingAndGlyphs">SGR1627-41</text>
<text x="261.25" y="217.13" textLength="38.55" lengthAdjust="spacingAndGlyphs">PSRB0656+14</text>
<text x="265.05" y="208.93" textLength="43.22" lengthAdjust="spacingAndGlyphs">PSRJ0538+2817</text>
<text x="331.95" y="209.83" textLength="40.69" lengthAdjust="spacingAndGlyphs">PSRJ1119-6127</text>
<text x="234.85" y="223.13" textLength="40.69" lengthAdjust="spacingAndGlyphs">PSRJ1622-4950</text>
<text x="257.45" y="233.13" textLength="36.02" lengthAdjust="spacingAndGlyphs">PSRB1055-52</text>
<text x="250.95" y="245.63" textLength="48.53" lengthAdjust="spacingAndGlyphs">SwiftJ1834.9-0846</text>
<text x="206.45" y="258.53" textLength="45.35" lengthAdjust="spacingAndGlyphs">RXJ1605.3+3249</text>
<text x="257.25" y="258.53" textLength="43.22" lengthAdjust="spacingAndGlyphs">PSRJ0633+1746</text>
<text x="347.25" y="245.43" textLength="36.02" lengthAdjust="spacingAndGlyphs">PSRB0833-45</text>
<text x="326.45" y="255.23" textLength="43.22" lengthAdjust="spacingAndGlyphs">PSRJ1740+1000</text>
<text x="335.65" y="264.23" textLength="36.02" lengthAdjust="spacingAndGlyphs">PSRB1706-44</text>
<text x="269.05" y="328.73" textLength="38.55" lengthAdjust="spacingAndGlyphs">PSRB2334+61</text>
</g>
<path d="M41.05 5.30 H393.90 M41.05 348.85 H393.90 M41.05 5.30 V348.85 M393.90 5.30 V348.85" stroke="#000" stroke-width="0.62" fill="none" stroke-linecap="square"/>
<line x1="41.00" y1="348.60" x2="41.00" y2="350.60" stroke="#000" stroke-width="0.5"/>
<text x="29.89" y="359.90" font-size="10.60">10</text><text x="42.20" y="356.30" font-size="7.00" textLength="9.34" lengthAdjust="spacingAndGlyphs">−4</text>
<line x1="119.30" y1="348.60" x2="119.30" y2="350.60" stroke="#000" stroke-width="0.5"/>
<text x="108.19" y="359.90" font-size="10.60">10</text><text x="120.49" y="356.30" font-size="7.00" textLength="9.53" lengthAdjust="spacingAndGlyphs">−2</text>
<line x1="197.60" y1="348.60" x2="197.60" y2="350.60" stroke="#000" stroke-width="0.5"/>
<text x="189.24" y="359.90" font-size="10.60">10</text><text x="201.18" y="356.30" font-size="7.00">0</text>
<line x1="275.90" y1="348.60" x2="275.90" y2="350.60" stroke="#000" stroke-width="0.5"/>
<text x="267.54" y="359.90" font-size="10.60">10</text><text x="279.40" y="356.30" font-size="7.00">2</text>
<line x1="354.20" y1="348.60" x2="354.20" y2="350.60" stroke="#000" stroke-width="0.5"/>
<text x="345.84" y="359.90" font-size="10.60">10</text><text x="357.90" y="356.30" font-size="7.00">4</text>
<line x1="39.00" y1="322.90" x2="41.00" y2="322.90" stroke="#000" stroke-width="0.5"/>
<text x="15.49" y="326.60" font-size="10.60">10</text><text x="27.79" y="323.00" font-size="7.00" textLength="9.53" lengthAdjust="spacingAndGlyphs">−2</text>
<line x1="39.00" y1="259.30" x2="41.00" y2="259.30" stroke="#000" stroke-width="0.5"/>
<text x="15.49" y="263.00" font-size="10.60">10</text><text x="27.79" y="259.40" font-size="7.00" textLength="9.51" lengthAdjust="spacingAndGlyphs">−1</text>
<line x1="39.00" y1="195.70" x2="41.00" y2="195.70" stroke="#000" stroke-width="0.5"/>
<text x="20.99" y="199.40" font-size="10.60">10</text><text x="32.93" y="195.80" font-size="7.00">0</text>
<line x1="39.00" y1="132.10" x2="41.00" y2="132.10" stroke="#000" stroke-width="0.5"/>
<text x="20.99" y="135.80" font-size="10.60">10</text><text x="32.67" y="132.20" font-size="7.00">1</text>
<line x1="39.00" y1="68.50" x2="41.00" y2="68.50" stroke="#000" stroke-width="0.5"/>
<text x="20.99" y="72.20" font-size="10.60">10</text><text x="32.85" y="68.60" font-size="7.00">2</text>
<line x1="39.00" y1="4.90" x2="41.00" y2="4.90" stroke="#000" stroke-width="0.5"/>
<text x="20.99" y="8.60" font-size="10.60">10</text><text x="32.93" y="5.00" font-size="7.00">3</text>
<line x1="39.70" y1="348.21" x2="41.00" y2="348.21" stroke="#000" stroke-width="0.35"/>
<line x1="39.70" y1="342.05" x2="41.00" y2="342.05" stroke="#000" stroke-width="0.35"/>
<line x1="39.70" y1="337.01" x2="41.00" y2="337.01" stroke="#000" stroke-width="0.35"/>
<line x1="39.70" y1="332.75" x2="41.00" y2="332.75" stroke="#000" stroke-width="0.35"/>
<line x1="39.70" y1="329.06" x2="41.00" y2="329.06" stroke="#000" stroke-width="0.35"/>
<line x1="39.70" y1="325.81" x2="41.00" y2="325.81" stroke="#000" stroke-width="0.35"/>
<line x1="39.70" y1="303.75" x2="41.00" y2="303.75" stroke="#000" stroke-width="0.35"/>
<line x1="39.70" y1="292.56" x2="41.00" y2="292.56" stroke="#000" stroke-width="0.35"/>
<line x1="39.70" y1="284.61" x2="41.00" y2="284.61" stroke="#000" stroke-width="0.35"/>
<line x1="39.70" y1="278.45" x2="41.00" y2="278.45" stroke="#000" stroke-width="0.35"/>
<line x1="39.70" y1="273.41" x2="41.00" y2="273.41" stroke="#000" stroke-width="0.35"/>
<line x1="39.70" y1="269.15" x2="41.00" y2="269.15" stroke="#000" stroke-width="0.35"/>
<line x1="39.70" y1="265.46" x2="41.00" y2="265.46" stroke="#000" stroke-width="0.35"/>
<line x1="39.70" y1="262.21" x2="41.00" y2="262.21" stroke="#000" stroke-width="0.35"/>
<line x1="39.70" y1="240.15" x2="41.00" y2="240.15" stroke="#000" stroke-width="0.35"/>
<line x1="39.70" y1="228.96" x2="41.00" y2="228.96" stroke="#000" stroke-width="0.35"/>
<line x1="39.70" y1="221.01" x2="41.00" y2="221.01" stroke="#000" stroke-width="0.35"/>
<line x1="39.70" y1="214.85" x2="41.00" y2="214.85" stroke="#000" stroke-width="0.35"/>
<line x1="39.70" y1="209.81" x2="41.00" y2="209.81" stroke="#000" stroke-width="0.35"/>
<line x1="39.70" y1="205.55" x2="41.00" y2="205.55" stroke="#000" stroke-width="0.35"/>
<line x1="39.70" y1="201.86" x2="41.00" y2="201.86" stroke="#000" stroke-width="0.35"/>
<line x1="39.70" y1="198.61" x2="41.00" y2="198.61" stroke="#000" stroke-width="0.35"/>
<line x1="39.70" y1="176.55" x2="41.00" y2="176.55" stroke="#000" stroke-width="0.35"/>
<line x1="39.70" y1="165.36" x2="41.00" y2="165.36" stroke="#000" stroke-width="0.35"/>
<line x1="39.70" y1="157.41" x2="41.00" y2="157.41" stroke="#000" stroke-width="0.35"/>
<line x1="39.70" y1="151.25" x2="41.00" y2="151.25" stroke="#000" stroke-width="0.35"/>
<line x1="39.70" y1="146.21" x2="41.00" y2="146.21" stroke="#000" stroke-width="0.35"/>
<line x1="39.70" y1="141.95" x2="41.00" y2="141.95" stroke="#000" stroke-width="0.35"/>
<line x1="39.70" y1="138.26" x2="41.00" y2="138.26" stroke="#000" stroke-width="0.35"/>
<line x1="39.70" y1="135.01" x2="41.00" y2="135.01" stroke="#000" stroke-width="0.35"/>
<line x1="39.70" y1="112.95" x2="41.00" y2="112.95" stroke="#000" stroke-width="0.35"/>
<line x1="39.70" y1="101.76" x2="41.00" y2="101.76" stroke="#000" stroke-width="0.35"/>
<line x1="39.70" y1="93.81" x2="41.00" y2="93.81" stroke="#000" stroke-width="0.35"/>
<line x1="39.70" y1="87.65" x2="41.00" y2="87.65" stroke="#000" stroke-width="0.35"/>
<line x1="39.70" y1="82.61" x2="41.00" y2="82.61" stroke="#000" stroke-width="0.35"/>
<line x1="39.70" y1="78.35" x2="41.00" y2="78.35" stroke="#000" stroke-width="0.35"/>
<line x1="39.70" y1="74.66" x2="41.00" y2="74.66" stroke="#000" stroke-width="0.35"/>
<line x1="39.70" y1="71.41" x2="41.00" y2="71.41" stroke="#000" stroke-width="0.35"/>
<line x1="39.70" y1="49.35" x2="41.00" y2="49.35" stroke="#000" stroke-width="0.35"/>
<line x1="39.70" y1="38.16" x2="41.00" y2="38.16" stroke="#000" stroke-width="0.35"/>
<line x1="39.70" y1="30.21" x2="41.00" y2="30.21" stroke="#000" stroke-width="0.35"/>
<line x1="39.70" y1="24.05" x2="41.00" y2="24.05" stroke="#000" stroke-width="0.35"/>
<line x1="39.70" y1="19.01" x2="41.00" y2="19.01" stroke="#000" stroke-width="0.35"/>
<line x1="39.70" y1="14.75" x2="41.00" y2="14.75" stroke="#000" stroke-width="0.35"/>
<line x1="39.70" y1="11.06" x2="41.00" y2="11.06" stroke="#000" stroke-width="0.35"/>
<line x1="39.70" y1="7.81" x2="41.00" y2="7.81" stroke="#000" stroke-width="0.35"/>
<text x="132.29" y="372.80" font-size="10.10" textLength="170.01" lengthAdjust="spacingAndGlyphs">Spin down luminosity (10<tspan font-size="7.07" dy="-3.64">33</tspan><tspan dy="3.64"> erg s</tspan><tspan font-size="7.07" dy="-3.64">−1</tspan><tspan dy="3.64">)</tspan></text>
<text transform="translate(10.70,275.41) rotate(-90)" x="0" y="0" font-size="10.10" textLength="196.61" lengthAdjust="spacingAndGlyphs">Quiescent X-ray luminosity (10<tspan font-size="7.07" dy="-3.64">33</tspan><tspan dy="3.64"> erg s</tspan><tspan font-size="7.07" dy="-3.64">−1</tspan><tspan dy="3.64">)</tspan></text>
<g transform="translate(0,-0.40)">
<rect x="44.8" y="8.9" width="112.0" height="34.4" rx="1.8" fill="#fff" fill-opacity="0.8" stroke="#dcdcdc" stroke-width="0.8"/>
<circle cx="55.5" cy="15.4" r="3.7" fill="#7f7f7f"/>
<path d="M53.85 24.00 L55.10 25.25 L56.35 24.00 L57.60 25.25 L56.35 26.50 L57.60 27.75 L56.35 29.00 L55.10 27.75 L53.85 29.00 L52.60 27.75 L53.85 26.50 L52.60 25.25Z" fill="#7f7f7f" stroke="#7f7f7f" stroke-width="1.0" stroke-linejoin="round"/>
<rect x="52.3" y="33.9" width="6.4" height="6.4" fill="#7f7f7f"/>
<text x="68.30" y="18.10" font-size="7.85" textLength="85.37" lengthAdjust="spacingAndGlyphs">Magnetar-like emission</text>
<text x="68.30" y="28.80" font-size="7.85" textLength="65.58" lengthAdjust="spacingAndGlyphs">Rotation-powered</text>
<text x="68.30" y="39.50" font-size="7.85" textLength="70.33" lengthAdjust="spacingAndGlyphs">Thermally emitting</text>
</g>
<defs><linearGradient id="cb1" x1="0" y1="0" x2="0" y2="1"><stop offset="0.0000" stop-color="#440154"/><stop offset="0.0312" stop-color="#470d60"/><stop offset="0.0625" stop-color="#48186a"/><stop offset="0.0938" stop-color="#482374"/><stop offset="0.1250" stop-color="#472d7b"/><stop offset="0.1562" stop-color="#453781"/><stop offset="0.1875" stop-color="#424086"/><stop offset="0.2188" stop-color="#3e4989"/><stop offset="0.2500" stop-color="#3b528b"/><stop offset="0.2812" stop-color="#375b8d"/><stop offset="0.3125" stop-color="#33638d"/><stop offset="0.3438" stop-color="#2f6b8e"/><stop offset="0.3750" stop-color="#2c728e"/><stop offset="0.4062" stop-color="#297a8e"/><stop offset="0.4375" stop-color="#26828e"/><stop offset="0.4688" stop-color="#23898e"/><stop offset="0.5000" stop-color="#21918c"/><stop offset="0.5312" stop-color="#1f988b"/><stop offset="0.5625" stop-color="#1fa088"/><stop offset="0.5938" stop-color="#22a785"/><stop offset="0.6250" stop-color="#28ae80"/><stop offset="0.6562" stop-color="#32b67a"/><stop offset="0.6875" stop-color="#3fbc73"/><stop offset="0.7188" stop-color="#4ec36b"/><stop offset="0.7500" stop-color="#5ec962"/><stop offset="0.7812" stop-color="#70cf57"/><stop offset="0.8125" stop-color="#84d44b"/><stop offset="0.8438" stop-color="#98d83e"/><stop offset="0.8750" stop-color="#addc30"/><stop offset="0.9062" stop-color="#c2df23"/><stop offset="0.9375" stop-color="#d8e219"/><stop offset="0.9688" stop-color="#ece51b"/><stop offset="1.0000" stop-color="#fde725"/></linearGradient></defs>
<rect x="415.70" y="5.45" width="17.60" height="343.25" fill="url(#cb1)" stroke="#000" stroke-opacity="0.75" stroke-width="0.6"/>
<line x1="433.30" y1="307.20" x2="435.30" y2="307.20" stroke="#000" stroke-width="0.5"/>
<text x="436.89" y="310.60" font-size="10.60">10</text><text x="448.83" y="307.00" font-size="7.00">0</text>
<line x1="433.30" y1="240.90" x2="435.30" y2="240.90" stroke="#000" stroke-width="0.5"/>
<text x="436.89" y="244.30" font-size="10.60">10</text><text x="448.57" y="240.70" font-size="7.00">1</text>
<line x1="433.30" y1="174.60" x2="435.30" y2="174.60" stroke="#000" stroke-width="0.5"/>
<text x="436.89" y="178.00" font-size="10.60">10</text><text x="448.75" y="174.40" font-size="7.00">2</text>
<line x1="433.30" y1="108.30" x2="435.30" y2="108.30" stroke="#000" stroke-width="0.5"/>
<text x="436.89" y="111.70" font-size="10.60">10</text><text x="448.83" y="108.10" font-size="7.00">3</text>
<line x1="433.30" y1="42.00" x2="435.30" y2="42.00" stroke="#000" stroke-width="0.5"/>
<text x="436.89" y="45.40" font-size="10.60">10</text><text x="448.95" y="41.80" font-size="7.00">4</text>
<line x1="433.30" y1="341.87" x2="434.60" y2="341.87" stroke="#000" stroke-width="0.35"/>
<line x1="433.30" y1="333.58" x2="434.60" y2="333.58" stroke="#000" stroke-width="0.35"/>
<line x1="433.30" y1="327.16" x2="434.60" y2="327.16" stroke="#000" stroke-width="0.35"/>
<line x1="433.30" y1="321.91" x2="434.60" y2="321.91" stroke="#000" stroke-width="0.35"/>
<line x1="433.30" y1="317.47" x2="434.60" y2="317.47" stroke="#000" stroke-width="0.35"/>
<line x1="433.30" y1="313.63" x2="434.60" y2="313.63" stroke="#000" stroke-width="0.35"/>
<line x1="433.30" y1="310.23" x2="434.60" y2="310.23" stroke="#000" stroke-width="0.35"/>
<line x1="433.30" y1="287.24" x2="434.60" y2="287.24" stroke="#000" stroke-width="0.35"/>
<line x1="433.30" y1="275.57" x2="434.60" y2="275.57" stroke="#000" stroke-width="0.35"/>
<line x1="433.30" y1="267.28" x2="434.60" y2="267.28" stroke="#000" stroke-width="0.35"/>
<line x1="433.30" y1="260.86" x2="434.60" y2="260.86" stroke="#000" stroke-width="0.35"/>
<line x1="433.30" y1="255.61" x2="434.60" y2="255.61" stroke="#000" stroke-width="0.35"/>
<line x1="433.30" y1="251.17" x2="434.60" y2="251.17" stroke="#000" stroke-width="0.35"/>
<line x1="433.30" y1="247.33" x2="434.60" y2="247.33" stroke="#000" stroke-width="0.35"/>
<line x1="433.30" y1="243.93" x2="434.60" y2="243.93" stroke="#000" stroke-width="0.35"/>
<line x1="433.30" y1="220.94" x2="434.60" y2="220.94" stroke="#000" stroke-width="0.35"/>
<line x1="433.30" y1="209.27" x2="434.60" y2="209.27" stroke="#000" stroke-width="0.35"/>
<line x1="433.30" y1="200.98" x2="434.60" y2="200.98" stroke="#000" stroke-width="0.35"/>
<line x1="433.30" y1="194.56" x2="434.60" y2="194.56" stroke="#000" stroke-width="0.35"/>
<line x1="433.30" y1="189.31" x2="434.60" y2="189.31" stroke="#000" stroke-width="0.35"/>
<line x1="433.30" y1="184.87" x2="434.60" y2="184.87" stroke="#000" stroke-width="0.35"/>
<line x1="433.30" y1="181.03" x2="434.60" y2="181.03" stroke="#000" stroke-width="0.35"/>
<line x1="433.30" y1="177.63" x2="434.60" y2="177.63" stroke="#000" stroke-width="0.35"/>
<line x1="433.30" y1="154.64" x2="434.60" y2="154.64" stroke="#000" stroke-width="0.35"/>
<line x1="433.30" y1="142.97" x2="434.60" y2="142.97" stroke="#000" stroke-width="0.35"/>
<line x1="433.30" y1="134.68" x2="434.60" y2="134.68" stroke="#000" stroke-width="0.35"/>
<line x1="433.30" y1="128.26" x2="434.60" y2="128.26" stroke="#000" stroke-width="0.35"/>
<line x1="433.30" y1="123.01" x2="434.60" y2="123.01" stroke="#000" stroke-width="0.35"/>
<line x1="433.30" y1="118.57" x2="434.60" y2="118.57" stroke="#000" stroke-width="0.35"/>
<line x1="433.30" y1="114.73" x2="434.60" y2="114.73" stroke="#000" stroke-width="0.35"/>
<line x1="433.30" y1="111.33" x2="434.60" y2="111.33" stroke="#000" stroke-width="0.35"/>
<line x1="433.30" y1="88.34" x2="434.60" y2="88.34" stroke="#000" stroke-width="0.35"/>
<line x1="433.30" y1="76.67" x2="434.60" y2="76.67" stroke="#000" stroke-width="0.35"/>
<line x1="433.30" y1="68.38" x2="434.60" y2="68.38" stroke="#000" stroke-width="0.35"/>
<line x1="433.30" y1="61.96" x2="434.60" y2="61.96" stroke="#000" stroke-width="0.35"/>
<line x1="433.30" y1="56.71" x2="434.60" y2="56.71" stroke="#000" stroke-width="0.35"/>
<line x1="433.30" y1="52.27" x2="434.60" y2="52.27" stroke="#000" stroke-width="0.35"/>
<line x1="433.30" y1="48.43" x2="434.60" y2="48.43" stroke="#000" stroke-width="0.35"/>
<line x1="433.30" y1="45.03" x2="434.60" y2="45.03" stroke="#000" stroke-width="0.35"/>
<line x1="433.30" y1="22.04" x2="434.60" y2="22.04" stroke="#000" stroke-width="0.35"/>
<line x1="433.30" y1="10.37" x2="434.60" y2="10.37" stroke="#000" stroke-width="0.35"/>
<text transform="translate(463.20,233.21) rotate(-90)" x="0" y="0" font-size="10.10" textLength="111.41" lengthAdjust="spacingAndGlyphs">Characteristic Age (kyr)</text>
</g>
</svg>
</body></html>
